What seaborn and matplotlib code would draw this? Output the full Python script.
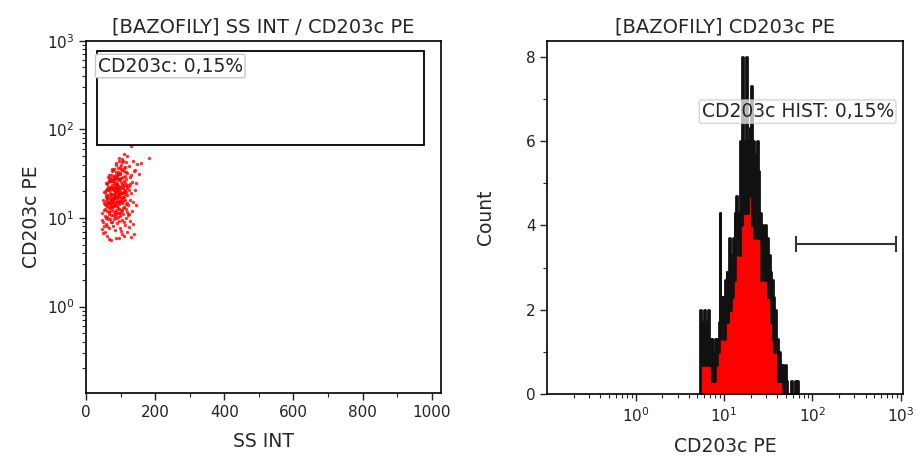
import numpy as np
import pandas as pd
import matplotlib
matplotlib.use("Agg")
import matplotlib.pyplot as plt
import seaborn as sns
from matplotlib.patches import Rectangle

sns.set_style("ticks")
plt.rcParams["font.family"] = ["DejaVu Sans"]

# scatter events: SS INT vs CD203c PE
ss_int = [
    48, 95, 62, 118, 73, 131, 55, 104, 86, 140, 67, 110,
    45, 78, 102, 58, 125, 90, 66, 113, 52, 84, 137, 71, 97, 60,
    50, 83, 69, 108, 94, 57, 121, 76, 88, 63, 99, 45, 115, 72, 81, 128, 54, 92, 67, 104, 79, 86, 60, 111,
    47, 75, 90, 62, 101, 84, 118, 69, 56, 95, 78, 132, 64, 88, 107, 73, 52, 98, 81, 115, 66, 92, 59, 86,
    124, 71, 103, 79, 61, 94, 110, 83, 68, 145,
    54, 79, 92, 67, 105, 86, 73, 118, 61, 97, 83, 48, 110, 76, 89, 65, 101, 128, 71, 94, 58, 84, 113, 69,
    99, 77, 87, 52, 107, 81, 63, 95, 122, 74, 90, 57, 103, 80, 68, 116, 85, 93, 60, 78, 108, 72, 98, 136,
    66, 88, 82, 75,
    58, 84, 96, 71, 109, 88, 64, 120, 79, 101, 91, 53, 114, 75, 86, 68, 104, 131, 81, 93, 61, 77, 117, 72,
    98, 85, 107, 56, 90, 82, 66, 99, 125, 74, 94, 62, 111, 87, 70, 119, 83, 102, 59, 92, 78, 105, 73, 141,
    89, 67, 95, 80, 113, 76,
    63, 87, 99, 74, 112, 91, 69, 123, 82, 104, 95, 58, 117, 79, 89, 72, 107, 134, 85, 97, 66, 80, 120, 76,
    101, 88, 110, 61, 93, 84, 70, 102, 128, 78, 96, 65, 115, 90, 73, 146, 86, 106, 68, 94,
    68, 92, 104, 79, 116, 87, 74, 127, 98, 84, 109, 63, 95, 138, 81, 101, 72, 120, 89, 152, 77, 106, 93, 66,
    113, 86, 143, 99, 75, 131,
    82, 101, 95, 112, 88, 124, 106, 93, 148, 117, 99, 135, 86, 110, 160, 103,
    104, 118, 96, 181, 110, 130,
]
cd203c_pe = [
    6.8, 5.9, 6.3, 6.9, 5.7, 6.1, 7.0, 6.5, 6.0, 6.6, 5.8, 6.2,
    7.4, 8.1, 7.2, 8.6, 7.9, 8.8, 7.6, 8.3, 8.0, 7.3, 8.5, 8.9, 7.7, 8.2,
    9.1, 10.4, 9.6, 11.0, 9.3, 10.1, 10.8, 9.0, 11.1, 9.8, 10.6, 9.4, 10.0, 10.9, 9.7, 9.2, 10.5, 10.2,
    11.2, 9.5, 10.7, 9.9, 10.3, 9.0,
    11.4, 12.8, 13.5, 11.9, 12.2, 14.0, 11.6, 13.1, 12.5, 11.3, 13.8, 12.0, 13.3, 11.7, 12.9, 14.1, 12.3,
    11.5, 13.6, 12.7, 11.8, 13.0, 14.0, 12.4, 11.2, 13.4, 12.1, 11.9, 13.7, 12.6, 13.2, 11.4, 12.0, 13.9,
    14.3, 15.8, 17.2, 14.9, 16.4, 15.1, 17.6, 14.6, 16.9, 15.5, 14.2, 16.1, 17.0, 15.3, 16.7, 14.8, 17.4,
    15.9, 16.2, 14.5, 15.6, 17.7, 16.0, 14.4, 15.2, 16.6, 17.3, 14.7, 15.4, 16.8, 15.0, 17.5, 14.1, 16.3,
    15.7, 17.1, 14.9, 16.5, 15.9, 14.3, 17.8, 15.2, 16.4, 14.6, 17.0, 15.5, 16.1, 15.0, 17.4, 14.8, 16.7, 15.3,
    18.0, 20.3, 21.8, 18.7, 19.5, 22.1, 20.9, 18.3, 21.2, 19.1, 22.4, 19.8, 20.6, 18.5, 21.5, 20.0, 18.9,
    19.3, 22.0, 20.7, 18.2, 21.0, 19.6, 22.3, 20.2, 18.8, 21.7, 19.4, 20.5, 18.1, 21.9, 19.0, 20.8, 22.2,
    18.6, 21.3, 19.9, 20.1, 18.4, 21.6, 19.7, 22.0, 20.4, 18.9, 21.1, 19.2, 22.4, 20.6, 18.0, 21.4, 19.5,
    20.9, 18.7, 21.8,
    22.6, 25.4, 27.8, 23.5, 24.7, 28.0, 26.3, 23.0, 26.9, 24.1, 27.5, 25.0, 22.8, 26.0, 24.4, 27.2, 23.8,
    25.7, 28.2, 22.5, 26.6, 24.9, 23.3, 27.0, 25.2, 22.9, 26.4, 24.3, 27.7, 23.6, 25.9, 28.1, 24.0, 26.8,
    22.7, 25.5, 27.3, 23.9, 26.1, 24.6, 27.9, 23.2, 25.8, 26.5,
    28.5, 31.7, 34.9, 29.6, 33.0, 30.4, 35.2, 28.9, 32.5, 30.0, 34.1, 29.2, 31.1, 33.6, 28.3, 35.4, 30.8,
    32.1, 29.9, 31.4, 34.5, 28.7, 33.3, 30.2, 29.4, 32.8, 35.0, 31.0, 33.9, 30.6,
    36.0, 39.8, 43.5, 37.2, 41.4, 38.5, 44.3, 36.8, 40.6, 42.7, 38.0, 44.0, 39.2, 36.4, 41.9, 42.2,
    46.5, 50.2, 48.0, 47.5, 53.0, 65.0,
]

# histogram channel counts (channels of 0.01 decade starting at 10^0.73)
hist_start = 0.73
hist_step = 0.01
hist_counts = [
    2.0, 0.7, 1.7, 0.7, 2.0,
    1.0, 1.7, 0.7, 1.3, 2.0, 0.7, 1.3, 0.7,
    1.3, 0.3, 1.0, 0.3, 1.3, 0.7, 1.3,
    1.0, 1.7, 4.3,
    1.3, 2.3, 1.7, 2.3, 1.3, 2.7, 2.0, 2.9, 1.7, 2.7,
    3.7, 2.0, 3.3, 2.3, 3.7, 2.7,
    4.3, 3.3, 4.7, 3.7, 4.3, 3.3,
    6.0, 4.0,
    8.0, 4.7, 6.0, 4.3, 5.7, 8.0, 4.3,
    6.0, 4.7, 6.3, 5.0, 7.3, 4.0,
    6.0, 3.7, 5.7, 4.3, 6.0, 3.7, 5.3, 3.7,
    4.3, 2.7, 4.0, 3.0, 3.7, 2.7, 4.0, 2.7,
    3.7, 2.3, 3.3,
    2.9, 1.7, 2.7, 1.3, 2.3, 1.0, 2.0, 1.3,
    1.3, 0.3, 1.0, 0.3, 0.7, 0.3,
    0.7, 0.0, 0.3, 0.7, 0.3, 0.0,
    0.0, 0.0, 0.0, 0.0, 0.3, 0.0, 0.0, 0.0, 0.3, 0.0, 0.0, 0.3,
]

# gates
gate_x = (31, 979)
gate_y = (66.4, 771)
gate_label = "CD203c: 0,15%"
range_x = (65.8, 875)
range_y = 3.555
range_label = "CD203c HIST: 0,15%"

fig = plt.figure(figsize=(9.17, 4.58), dpi=100)
ax1 = fig.add_axes([0.0938, 0.1419, 0.3871, 0.7693])
ax2 = fig.add_axes([0.5968, 0.1397, 0.3876, 0.7715])

# left: dot plot
scatter_df = pd.DataFrame({"SS INT": ss_int, "CD203c PE": cd203c_pe})
sns.scatterplot(data=scatter_df, x="SS INT", y="CD203c PE", color="red",
                s=6, linewidth=0, alpha=0.8, ax=ax1)
ax1.set_yscale("log")
ax1.set_xlim(0, 1027)
ax1.set_ylim(10 ** -0.976, 1000)
ax1.set_xticks([0, 200, 400, 600, 800, 1000])
ax1.set_xticks([100, 300, 500, 700, 900], minor=True)
ax1.add_patch(Rectangle((gate_x[0], gate_y[0]), gate_x[1] - gate_x[0], gate_y[1] - gate_y[0],
                        fill=False, edgecolor="black", linewidth=1.3))
ax1.text(0.033, 0.955, gate_label, transform=ax1.transAxes, ha="left", va="top", fontsize=13.5,
         bbox=dict(boxstyle="round,pad=0.12", fc="white", ec="#c8c8c8", lw=1))
ax1.set_title("[BAZOFILY] SS INT / CD203c PE", fontsize=14, pad=6)
ax1.set_xlabel("SS INT", fontsize=13.5, labelpad=9)
ax1.set_ylabel("CD203c PE", fontsize=13.5, labelpad=4)

# right: histogram
centers = [10 ** (hist_start + (i + 0.5) * hist_step) for i in range(len(hist_counts))]
sns.histplot(x=centers, weights=hist_counts, log_scale=True, binwidth=hist_step,
             binrange=(hist_start, hist_start + hist_step * len(hist_counts)),
             element="step", fill=True, color="red", edgecolor="#111111",
             linewidth=2.0, alpha=1, ax=ax2)
ax2.set_xlim(0.1, 10 ** 3.023)
ax2.set_ylim(0, 8.38)
ax2.set_xticks([1, 10, 100, 1000])
ax2.set_yticks([0, 2, 4, 6, 8])
ax2.set_yticks([1, 3, 5, 7], minor=True)
ax2.plot(range_x, [range_y, range_y], color="#333333", linewidth=1.5)
ax2.plot(range_x, [range_y, range_y], linestyle="none", marker="|", markersize=11,
         markeredgewidth=1.5, color="#333333")
ax2.text(0.434, 0.826, range_label, transform=ax2.transAxes, ha="left", va="top", fontsize=13.5,
         bbox=dict(boxstyle="round,pad=0.12", fc="white", ec="#c8c8c8", lw=1, alpha=0.7))
ax2.set_title("[BAZOFILY] CD203c PE", fontsize=14, pad=6)
ax2.set_xlabel("CD203c PE", fontsize=13.5, labelpad=9)
ax2.set_ylabel("Count", fontsize=13.5, labelpad=22)

for ax in (ax1, ax2):
    for s in ax.spines.values():
        s.set_visible(True)
        s.set_linewidth(1.2)
        s.set_color("black")
    ax.tick_params(which="major", direction="out", length=5, width=1, labelsize=11, colors="#222222")
    ax.tick_params(which="minor", direction="out", length=3, width=0.8)

fig.savefig("out.png", dpi=100)
